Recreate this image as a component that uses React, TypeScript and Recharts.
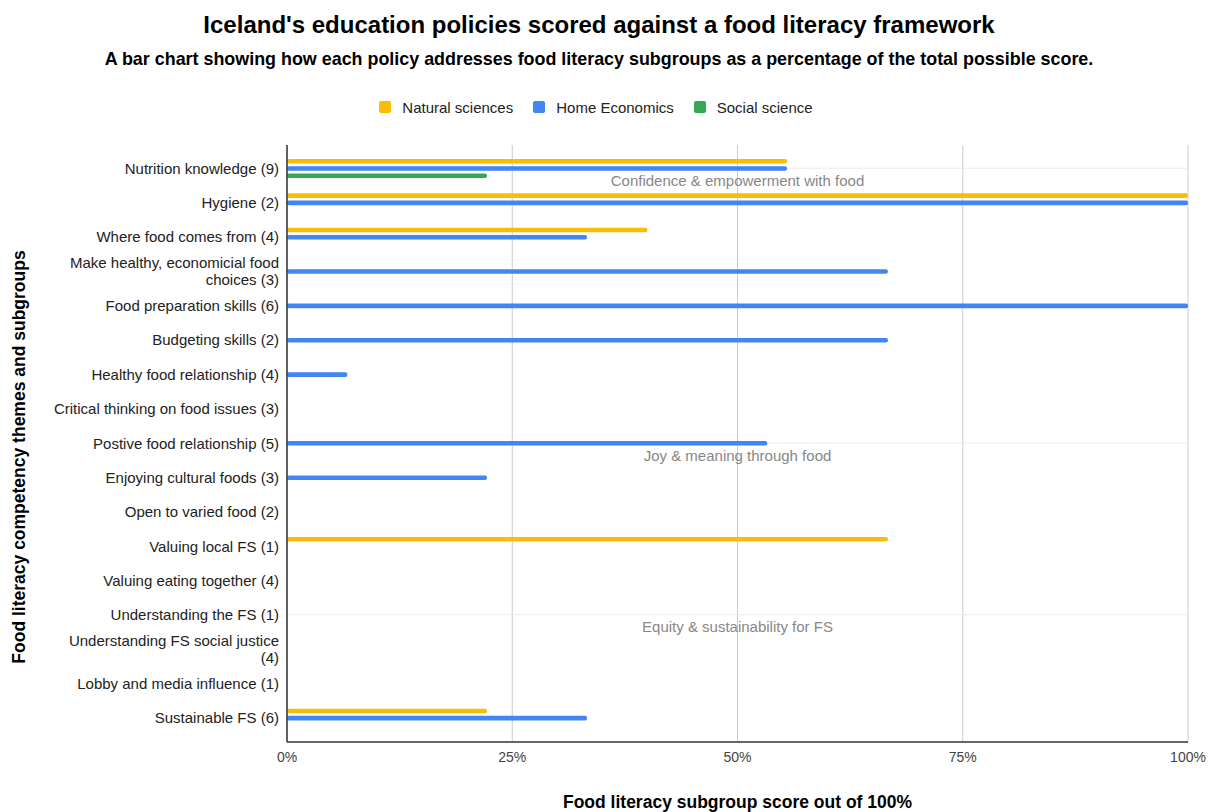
import React from 'react';
import { BarChart, Bar, XAxis, YAxis, CartesianGrid, ReferenceLine } from 'recharts';

const categories = [
  'Nutrition knowledge (9)',
  'Hygiene (2)',
  'Where food comes from (4)',
  'Make healthy, economicial food choices (3)',
  'Food preparation skills (6)',
  'Budgeting skills (2)',
  'Healthy food relationship (4)',
  'Critical thinking on food issues (3)',
  'Postive food relationship (5)',
  'Enjoying cultural foods (3)',
  'Open to varied food (2)',
  'Valuing local FS (1)',
  'Valuing eating together (4)',
  'Understanding the FS (1)',
  'Understanding FS social justice (4)',
  'Lobby and media influence (1)',
  'Sustainable FS (6)',
];

const naturalSciences = [0.555, 1, 0.4, 0, 0, 0, 0, 0, 0, 0, 0, 0.667, 0, 0, 0, 0, 0.222];
const homeEconomics = [0.555, 1, 0.333, 0.667, 1, 0.667, 0.067, 0, 0.533, 0.222, 0, 0, 0, 0, 0, 0, 0.333];
const socialScience = [0.222, 0, 0, 0, 0, 0, 0, 0, 0, 0, 0, 0, 0, 0, 0, 0, 0];

const xTicks = [0, 0.25, 0.5, 0.75, 1];

const sections = [
  { at: 'Nutrition knowledge (9)', label: 'Confidence & empowerment with food' },
  { at: 'Postive food relationship (5)', label: 'Joy & meaning through food' },
  { at: 'Understanding the FS (1)', label: 'Equity & sustainability for FS' },
];

const seriesNames = ['Natural sciences', 'Home Economics', 'Social science'];
const seriesColors = ['#fbbc04', '#4285f4', '#34a853'];

const data = categories.map((c, i) => ({
  name: c,
  ns: naturalSciences[i],
  he: homeEconomics[i],
  ss: socialScience[i],
}));

const FONT = 'Arial, "Liberation Sans", sans-serif';
const TICK_FS = 15;

let ctx: CanvasRenderingContext2D | null = null;
function measure(t: string): number {
  if (!ctx) {
    const c = document.createElement('canvas');
    ctx = c.getContext('2d');
  }
  if (!ctx) return t.length * 7.5;
  ctx.font = `${TICK_FS}px ` + FONT;
  return ctx.measureText(t).width;
}

function wrap(text: string, maxW: number): string[] {
  const words = text.split(' ');
  const lines: string[] = [];
  let cur = '';
  for (const w of words) {
    const test = cur ? cur + ' ' + w : w;
    if (measure(test) > maxW && cur) {
      lines.push(cur);
      cur = w;
    } else {
      cur = test;
    }
  }
  if (cur) lines.push(cur);
  return lines;
}

const YTick = (props: any) => {
  const { x, y, payload } = props;
  const lines = wrap(String(payload.value), 231);
  const lh = 17;
  const start = y - ((lines.length - 1) * lh) / 2;
  return (
    <text x={x} y={start} textAnchor="end" fontSize={TICK_FS} fill="#222" fontFamily={FONT}>
      {lines.map((l, i) => (
        <tspan key={i} x={x} y={start + i * lh} dominantBaseline="central">{l}</tspan>
      ))}
    </text>
  );
};

const SectionLabel = (text: string) => (props: any) => {
  const vb = props.viewBox || {};
  const cx = (vb.x || 0) + (vb.width || 0) / 2;
  return (
    <text x={cx} y={(vb.y || 0) + 12} textAnchor="middle" dominantBaseline="central" fontSize={15} fill="#888" fontFamily={FONT}>
      {text}
    </text>
  );
};

export default function App() {
  return (
    <div style={{ position: 'absolute', left: 0, top: 0, width: 1208, height: 812, background: '#fff', fontFamily: FONT }}>
      <div style={{ position: 'absolute', left: 0, width: 1198, top: 9, textAlign: 'center', fontSize: 24, fontWeight: 'bold', color: '#000', lineHeight: '32px' }}>
        Iceland's education policies scored against a food literacy framework
      </div>
      <div style={{ position: 'absolute', left: 0, width: 1198, top: 48, textAlign: 'center', fontSize: 17.9, fontWeight: 'bold', color: '#000', lineHeight: '22px' }}>
        A bar chart showing how each policy addresses food literacy subgroups as a percentage of the total possible score.
      </div>
      <div style={{ position: 'absolute', left: 0, width: 1192, top: 97, height: 20, display: 'flex', justifyContent: 'center', alignItems: 'center', fontSize: 15, color: '#222' }}>
        {seriesNames.map((n, i) => (
          <div key={n} style={{ display: 'flex', alignItems: 'center', marginRight: i < 2 ? 20 : 0 }}>
            <div style={{ width: 12, height: 12, borderRadius: 2, background: seriesColors[i], marginRight: 11 }} />
            <span>{n}</span>
          </div>
        ))}
      </div>
      <div style={{ position: 'absolute', left: 0, top: 0 }}>
        <BarChart
          width={1208}
          height={812}
          data={data}
          layout="vertical"
          margin={{ top: 145, right: 20, bottom: 0, left: 0 }}
          barSize={4.6}
          barGap={2.6}
        >
          <CartesianGrid horizontal={false} vertical={true} stroke="#cccccc" />
          {sections.map((s) => (
            <ReferenceLine
              key={s.at}
              y={s.at}
              stroke="#ebebeb"
              strokeWidth={1}
              zIndex={-10}
              label={SectionLabel(s.label)}
            />
          ))}
          <XAxis
            type="number"
            domain={[0, 1]}
            ticks={xTicks}
            tickFormatter={(v: number) => `${Math.round(v * 100)}%`}
            axisLine={{ stroke: '#333', strokeWidth: 1.5 }}
            tickLine={false}
            tick={{ fontSize: 14, fill: '#444', fontFamily: FONT }}
            tickMargin={4}
            height={70}
            interval={0}
          />
          <YAxis
            type="category"
            dataKey="name"
            width={287}
            axisLine={{ stroke: '#333', strokeWidth: 1.5 }}
            tickLine={false}
            tick={<YTick />}
            tickMargin={2}
            interval={0}
            padding={{ top: 6, bottom: 7 }}
          />
          <Bar dataKey="ns" name={seriesNames[0]} fill={seriesColors[0]} radius={2} isAnimationActive={false} />
          <Bar dataKey="he" name={seriesNames[1]} fill={seriesColors[1]} radius={2} isAnimationActive={false} />
          <Bar dataKey="ss" name={seriesNames[2]} fill={seriesColors[2]} radius={2} isAnimationActive={false} />
        </BarChart>
      </div>
      <div style={{ position: 'absolute', left: 287, width: 901, top: 791, textAlign: 'center', fontSize: 17.5, fontWeight: 'bold', color: '#000', lineHeight: '22px' }}>
        Food literacy subgroup score out of 100%
      </div>
      <div
        style={{
          position: 'absolute',
          left: 19,
          top: 457,
          transform: 'translate(-50%, -50%) rotate(-90deg)',
          whiteSpace: 'nowrap',
          fontSize: 17.5,
          fontWeight: 'bold',
          color: '#000',
          lineHeight: '22px',
        }}
      >
        Food literacy competency themes and subgroups
      </div>
    </div>
  );
}
